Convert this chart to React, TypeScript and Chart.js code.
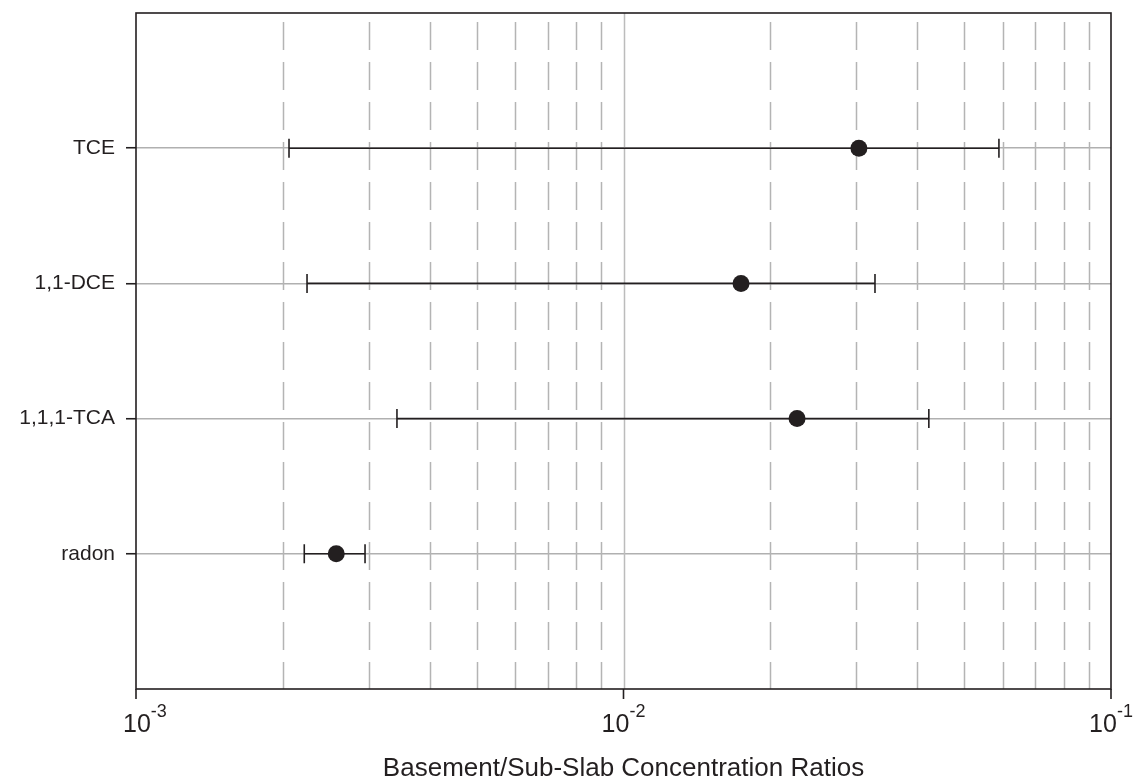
import React, { useEffect, useRef } from "react";
import { Chart, registerables } from "chart.js";

Chart.register(...registerables);

const categories = ["TCE", "1,1-DCE", "1,1,1-TCA", "radon"];
const medianValues = [0.0304, 0.01742, 0.0227, 0.002575];
const lowerValues = [0.00206, 0.002243, 0.00343, 0.002214];
const upperValues = [0.0589, 0.0328, 0.0423, 0.00295];
const decadeTicks = [0.001, 0.01, 0.1];
const decadeExponents = ["-3", "-2", "-1"];
const minorMultipliers = [2, 3, 4, 5, 6, 7, 8, 9];
const axisTitle = "Basement/Sub-Slab Concentration Ratios";

const INK = "#231f20";
const FONT = "'Liberation Sans', Arial, sans-serif";

const customPlugin = {
  id: "customDraw",
  beforeDatasetsDraw(chart: any) {
    const ctx = chart.ctx;
    const { left, right, top, bottom } = chart.chartArea;
    const xs = chart.scales.x;
    const ys = chart.scales.y;
    ctx.save();
    // minor dashed grid
    ctx.strokeStyle = "#b4b4b4";
    ctx.lineWidth = 1.5;
    ctx.setLineDash([28, 12]);
    ctx.lineDashOffset = 31;
    for (let d = 0; d < decadeTicks.length - 1; d++) {
      for (const m of minorMultipliers) {
        const px = Math.round(xs.getPixelForValue(m * decadeTicks[d])) + 0.5;
        ctx.beginPath();
        ctx.moveTo(px, top);
        ctx.lineTo(px, bottom);
        ctx.stroke();
      }
    }
    ctx.setLineDash([]);
    // decade solid grid
    ctx.strokeStyle = "#bcbcbc";
    for (const v of decadeTicks) {
      const px = Math.round(xs.getPixelForValue(v)) + 0.5;
      if (px <= left + 1 || px >= right - 1) continue;
      ctx.beginPath();
      ctx.moveTo(px, top);
      ctx.lineTo(px, bottom);
      ctx.stroke();
    }
    // error bars
    ctx.strokeStyle = INK;
    ctx.lineWidth = 1.6;
    categories.forEach((_, i) => {
      const py = ys.getPixelForValue(i + 1);
      const x1 = xs.getPixelForValue(lowerValues[i]);
      const x2 = xs.getPixelForValue(upperValues[i]);
      ctx.beginPath();
      ctx.moveTo(x1, py);
      ctx.lineTo(x2, py);
      ctx.moveTo(x1, py - 9.5);
      ctx.lineTo(x1, py + 9.5);
      ctx.moveTo(x2, py - 9.5);
      ctx.lineTo(x2, py + 9.5);
      ctx.stroke();
    });
    ctx.restore();
  },
  afterDatasetsDraw(chart: any) {
    const ctx = chart.ctx;
    const { left, right, top, bottom } = chart.chartArea;
    const xs = chart.scales.x;
    ctx.save();
    ctx.strokeStyle = INK;
    ctx.lineWidth = 1.6;
    ctx.strokeRect(left, top, right - left, bottom - top);
    // x ticks + labels
    ctx.fillStyle = INK;
    decadeTicks.forEach((v, i) => {
      const px = xs.getPixelForValue(v);
      ctx.beginPath();
      ctx.moveTo(px, bottom);
      ctx.lineTo(px, bottom + 10);
      ctx.stroke();
      ctx.font = `25px ${FONT}`;
      const baseW = ctx.measureText("10").width;
      ctx.font = `18px ${FONT}`;
      const supW = ctx.measureText(decadeExponents[i]).width;
      const start = Math.max(px - (baseW + supW) / 2, left - 13);
      ctx.textAlign = "left";
      ctx.textBaseline = "alphabetic";
      ctx.font = `25px ${FONT}`;
      ctx.fillText("10", start, 732);
      ctx.font = `18px ${FONT}`;
      ctx.fillText(decadeExponents[i], start + baseW, 717);
    });
    // axis title
    ctx.font = `26px ${FONT}`;
    ctx.textAlign = "center";
    ctx.textBaseline = "alphabetic";
    ctx.fillText(axisTitle, (left + right) / 2, 776);
    ctx.restore();
  },
};

export default function App() {
  const ref = useRef<HTMLCanvasElement | null>(null);
  useEffect(() => {
    if (!ref.current) return;
    const chart = new Chart(ref.current, {
      type: "scatter",
      data: {
        datasets: [
          {
            data: categories.map((_, i) => ({ x: medianValues[i], y: i + 1 })),
            pointRadius: 8.5,
            pointBackgroundColor: INK,
            pointBorderColor: INK,
            pointBorderWidth: 0,
          },
        ],
      },
      options: {
        animation: false,
        responsive: false,
        devicePixelRatio: 1,
        layout: { padding: { left: 0, top: 13, right: 27, bottom: 0 } },
        plugins: { legend: { display: false }, tooltip: { enabled: false } },
        scales: {
          x: {
            type: "logarithmic",
            min: 0.001,
            max: 0.1,
            ticks: { display: false },
            grid: { display: false },
            border: { display: false },
            afterFit: (s: any) => {
              s.height = 89;
              s.paddingLeft = 0;
              s.paddingRight = 0;
            },
          },
          y: {
            type: "linear",
            min: 0,
            max: 5,
            reverse: true,
            afterBuildTicks: (s: any) => {
              s.ticks = [1, 2, 3, 4].map((v) => ({ value: v }));
            },
            afterFit: (s: any) => {
              s.width = 136;
              s.paddingTop = 0;
              s.paddingBottom = 0;
            },
            ticks: {
              callback: (v: any) => categories[Number(v) - 1] ?? "",
              font: { family: FONT, size: 21 },
              color: INK,
              padding: 11,
              autoSkip: false,
            },
            grid: {
              color: "#b0b0b0",
              lineWidth: 1.5,
              tickColor: INK,
              tickLength: 10,
              tickWidth: 1.6,
            },
            border: { display: false },
          },
        },
      },
      plugins: [customPlugin],
    });
    return () => chart.destroy();
  }, []);
  return (
    <div style={{ position: "absolute", left: 0, top: 0, width: 1138, height: 778, background: "#fff" }}>
      <canvas ref={ref} width={1138} height={778} />
    </div>
  );
}
